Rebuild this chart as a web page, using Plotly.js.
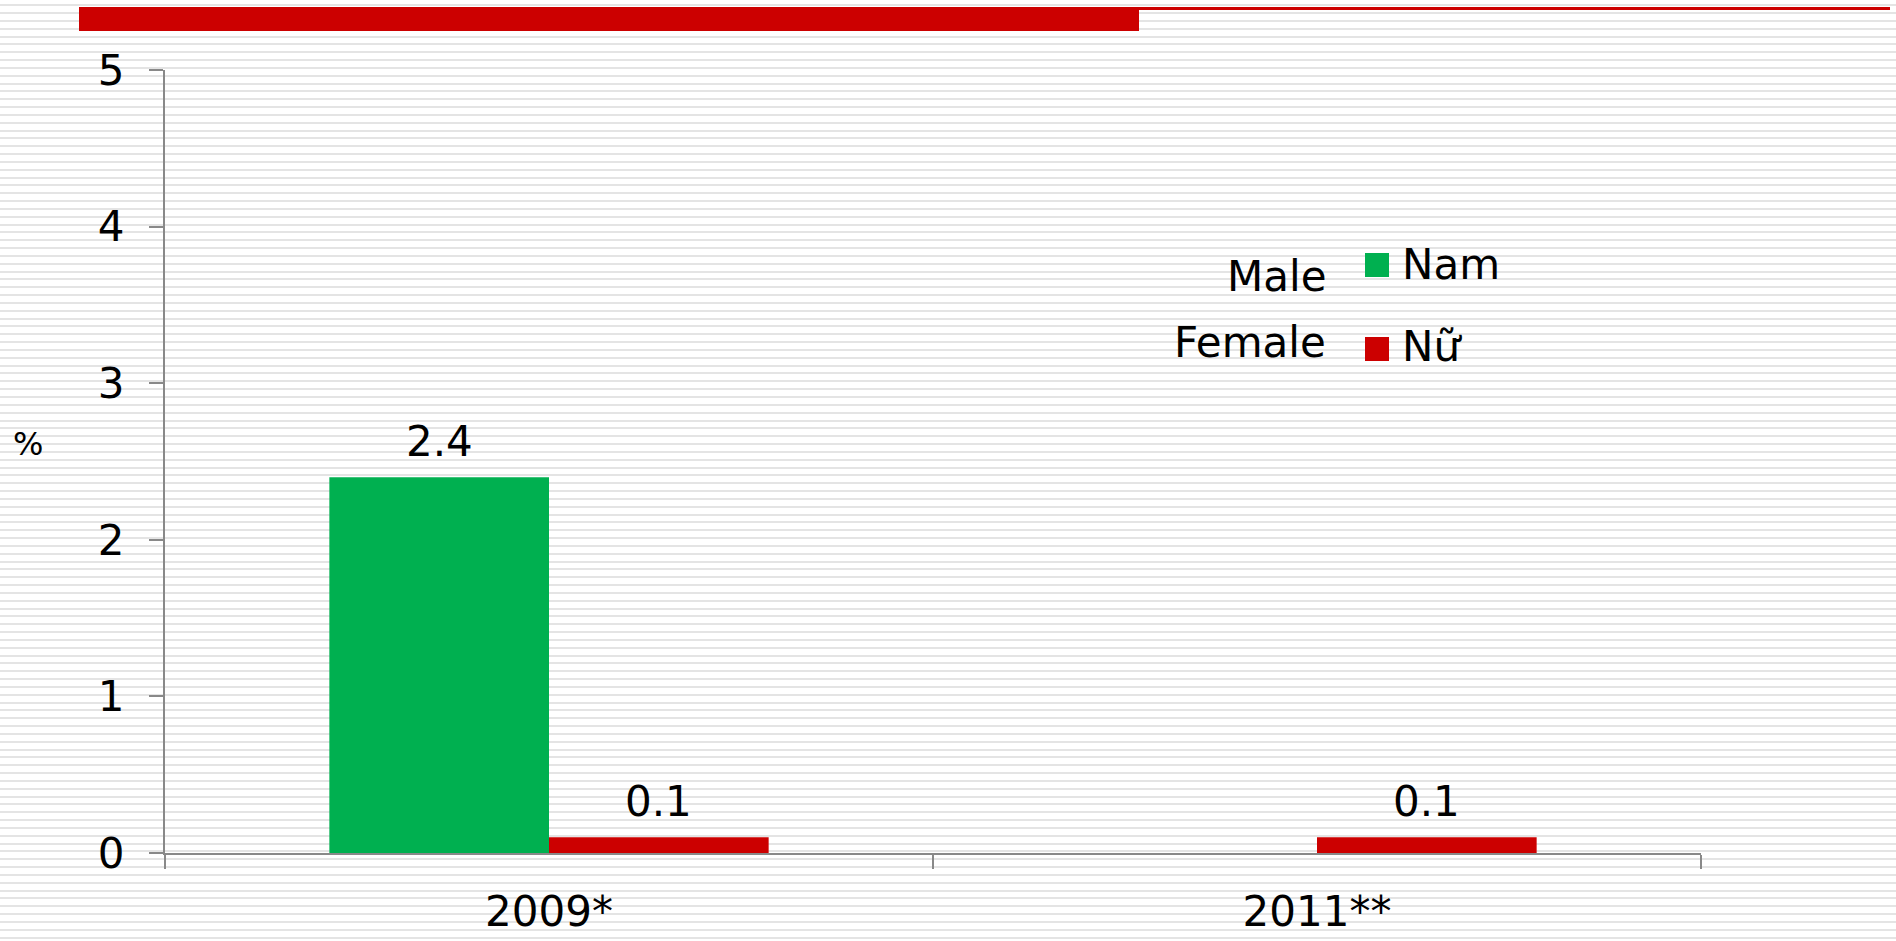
<!DOCTYPE html>
<html>
<head>
<meta charset="utf-8">
<script src="https://cdn.plot.ly/plotly-3.0.1.min.js"></script>
<style>
  html, body { margin: 0; padding: 0; width: 1896px; height: 941px; overflow: hidden; }
  body {
    background-color: #ffffff;
    background-image: repeating-linear-gradient(to bottom,
      #ffffff 0px, #ffffff 4.3px,
      #e4e4e4 4.3px, #e4e4e4 6.3px,
      #ffffff 6.3px, #ffffff 7.834px);
  }
  #chart { width: 1896px; height: 941px; }
</style>
</head>
<body>
<div id="chart"></div>
<script>
// ---- data ----
const categories = ['2009*', '2011**'];
const seriesNames = ['Nam', 'Nữ'];
const seriesEnglish = ['Male', 'Female'];
const namValues = [2.4, null];
const nuValues = [0.1, 0.1];
const yTickValues = [0, 1, 2, 3, 4, 5];
const yUnitLabel = '%';

// ---- styling ----
const GREEN = '#00B050';
const RED = '#CC0000';
const AXIS = '#898989';
const FONT = 'DejaVu Sans, Verdana, sans-serif';
const W = 1896, H = 941;
const M = {l: 165, r: 195, t: 70, b: 88};
const PW = W - M.l - M.r, PH = H - M.t - M.b;
const px = x => (x - M.l) / PW;          // page px -> paper x
const py = y => (M.t + PH - y) / PH;     // page px -> paper y
const BARGAP = 0.428;

const labelFmt = v => v.toFixed(1);
const seriesValues = [namValues, nuValues];
const seriesColors = [GREEN, RED];

const traces = seriesNames.map((n, i) => ({
  type: 'bar', name: n, x: categories, y: seriesValues[i],
  marker: {color: seriesColors[i]},
  showlegend: false, hoverinfo: 'none'
}));

// data labels placed above each bar, positioned by the axes
const catWidthPx = PW / categories.length;
const barWidthPx = catWidthPx * (1 - BARGAP) / seriesNames.length;
const annotations = [
  {xref: 'paper', yref: 'paper', x: px(28), y: py(444), xanchor: 'center', yanchor: 'middle',
   text: yUnitLabel, showarrow: false, font: {family: FONT, size: 32, color: '#000'}}
];
seriesValues.forEach((vals, i) => {
  const shift = (i - (seriesNames.length - 1) / 2) * barWidthPx;
  vals.forEach((v, j) => {
    if (v === null) return;
    annotations.push({xref: 'x', yref: 'y', x: categories[j], y: v, xshift: shift,
      yanchor: 'bottom', xanchor: 'center', yshift: 10, borderpad: 0,
      text: labelFmt(v), showarrow: false, font: {family: FONT, size: 42, color: '#000'}});
  });
});

// custom legend (large square swatches)
const legendRows = [{sq: 253, txt: 264.5, eng: 276}, {sq: 337, txt: 346.7, eng: 342}];
const shapes = [
  // top decorative red bars
  {type: 'rect', xref: 'paper', yref: 'paper', x0: px(79), x1: px(1139), y0: py(31), y1: py(7),
   fillcolor: RED, line: {width: 0}, layer: 'above'},
  {type: 'rect', xref: 'paper', yref: 'paper', x0: px(1139), x1: px(1890), y0: py(10), y1: py(7),
   fillcolor: RED, line: {width: 0}, layer: 'above'}
];
seriesNames.forEach((n, i) => {
  const r = legendRows[i];
  shapes.push({type: 'rect', xref: 'paper', yref: 'paper', x0: px(1365), x1: px(1389),
    y0: py(r.sq + 24), y1: py(r.sq), fillcolor: seriesColors[i], line: {width: 0}});
  annotations.push({xref: 'paper', yref: 'paper', x: px(1401), y: py(r.txt), xanchor: 'left',
    yanchor: 'middle', text: n, showarrow: false, borderpad: 0,
    font: {family: FONT, size: 42, color: '#000'}});
  annotations.push({xref: 'paper', yref: 'paper', x: px(1327), y: py(r.eng), xanchor: 'right',
    yanchor: 'middle', text: seriesEnglish[i], showarrow: false, borderpad: 0,
    font: {family: FONT, size: 42, color: '#000'}});
});

const layout = {
  width: W, height: H,
  margin: M,
  paper_bgcolor: 'rgba(0,0,0,0)',
  plot_bgcolor: 'rgba(0,0,0,0)',
  barmode: 'group',
  bargap: BARGAP,
  bargroupgap: 0,
  showlegend: false,
  font: {family: FONT, size: 42, color: '#000'},
  xaxis: {
    type: 'category',
    showline: true, linecolor: AXIS, linewidth: 2,
    ticks: 'outside', tickson: 'boundaries', ticklen: 14, tickwidth: 2, tickcolor: AXIS,
    showgrid: false, zeroline: false,
    tickfont: {family: FONT, size: 42, color: '#000'},
    ticklabelstandoff: 21
  },
  yaxis: {
    range: [0, 5], tickvals: yTickValues, ticktext: yTickValues.map(String),
    showline: true, linecolor: AXIS, linewidth: 2,
    ticks: 'outside', ticklen: 14, tickwidth: 2, tickcolor: AXIS,
    showgrid: false, zeroline: false,
    tickfont: {family: FONT, size: 42, color: '#000'},
    ticklabelstandoff: 16
  },
  shapes: shapes,
  annotations: annotations
};

Plotly.newPlot('chart', traces, layout, {displayModeBar: false, staticPlot: true});
</script>
</body>
</html>
